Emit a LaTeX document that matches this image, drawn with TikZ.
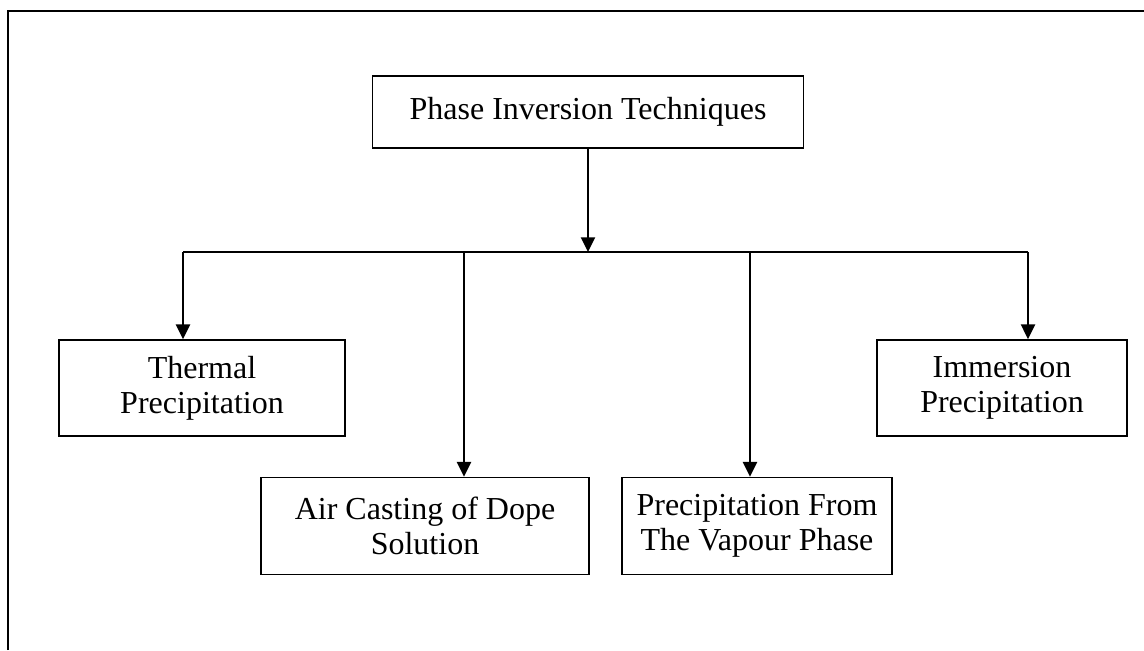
\documentclass[tikz,border=0pt]{standalone}
\usepackage{fontspec}
\setmainfont{Liberation Serif}
\usetikzlibrary{arrows.meta}

\begin{document}
\begin{tikzpicture}[
		x=0.75pt,y=-0.75pt,
		block/.style={draw,line width=1.3pt,align=center,inner sep=0pt,
			font=\fontsize{24}{26}\selectfont},
		link/.style={line width=1.5pt},
		arrow/.style={link,-{Triangle[width=10.5pt,length=11pt]}}
		]
		\useasboundingbox (0,0) rectangle (1144,650);
		\draw[line width=1.6pt] (8,650) -- (8,11) -- (1144,11);

		\path (588,112) node[block,minimum width=323.25pt,minimum height=54pt] (techniques) {Phase Inversion Techniques};
		\path (202,388) node[block,minimum width=214.5pt,minimum height=72pt] (thermal) {Thermal\\Precipitation}
		 (425,526) node[block,minimum width=246pt,minimum height=72.75pt] (air) {Air Casting of Dope\\Solution}
		 (757,526) node[block,minimum width=202.5pt,minimum height=72.75pt] (vapour) {Precipitation From\\The Vapour Phase}
		 (1002,388) node[block,minimum width=187.5pt,minimum height=72pt] (immersion) {Immersion\\Precipitation};

		\coordinate (split) at (588,252);
		\coordinate (left end) at (183,252);
		\coordinate (air branch) at (464,252);
		\coordinate (vapour branch) at (750,252);
		\coordinate (right end) at (1028,252);

		\draw[arrow] (techniques) -- (split);
		\draw[link] (left end) -- (right end);
		\draw[arrow] (left end) -- (left end |- thermal.north);
		\draw[arrow] (air branch) -- (air branch |- air.north);
		\draw[arrow] (vapour branch) -- (vapour branch |- vapour.north);
		\draw[arrow] (right end) -- (right end |- immersion.north);
	\end{tikzpicture}
\end{document}
